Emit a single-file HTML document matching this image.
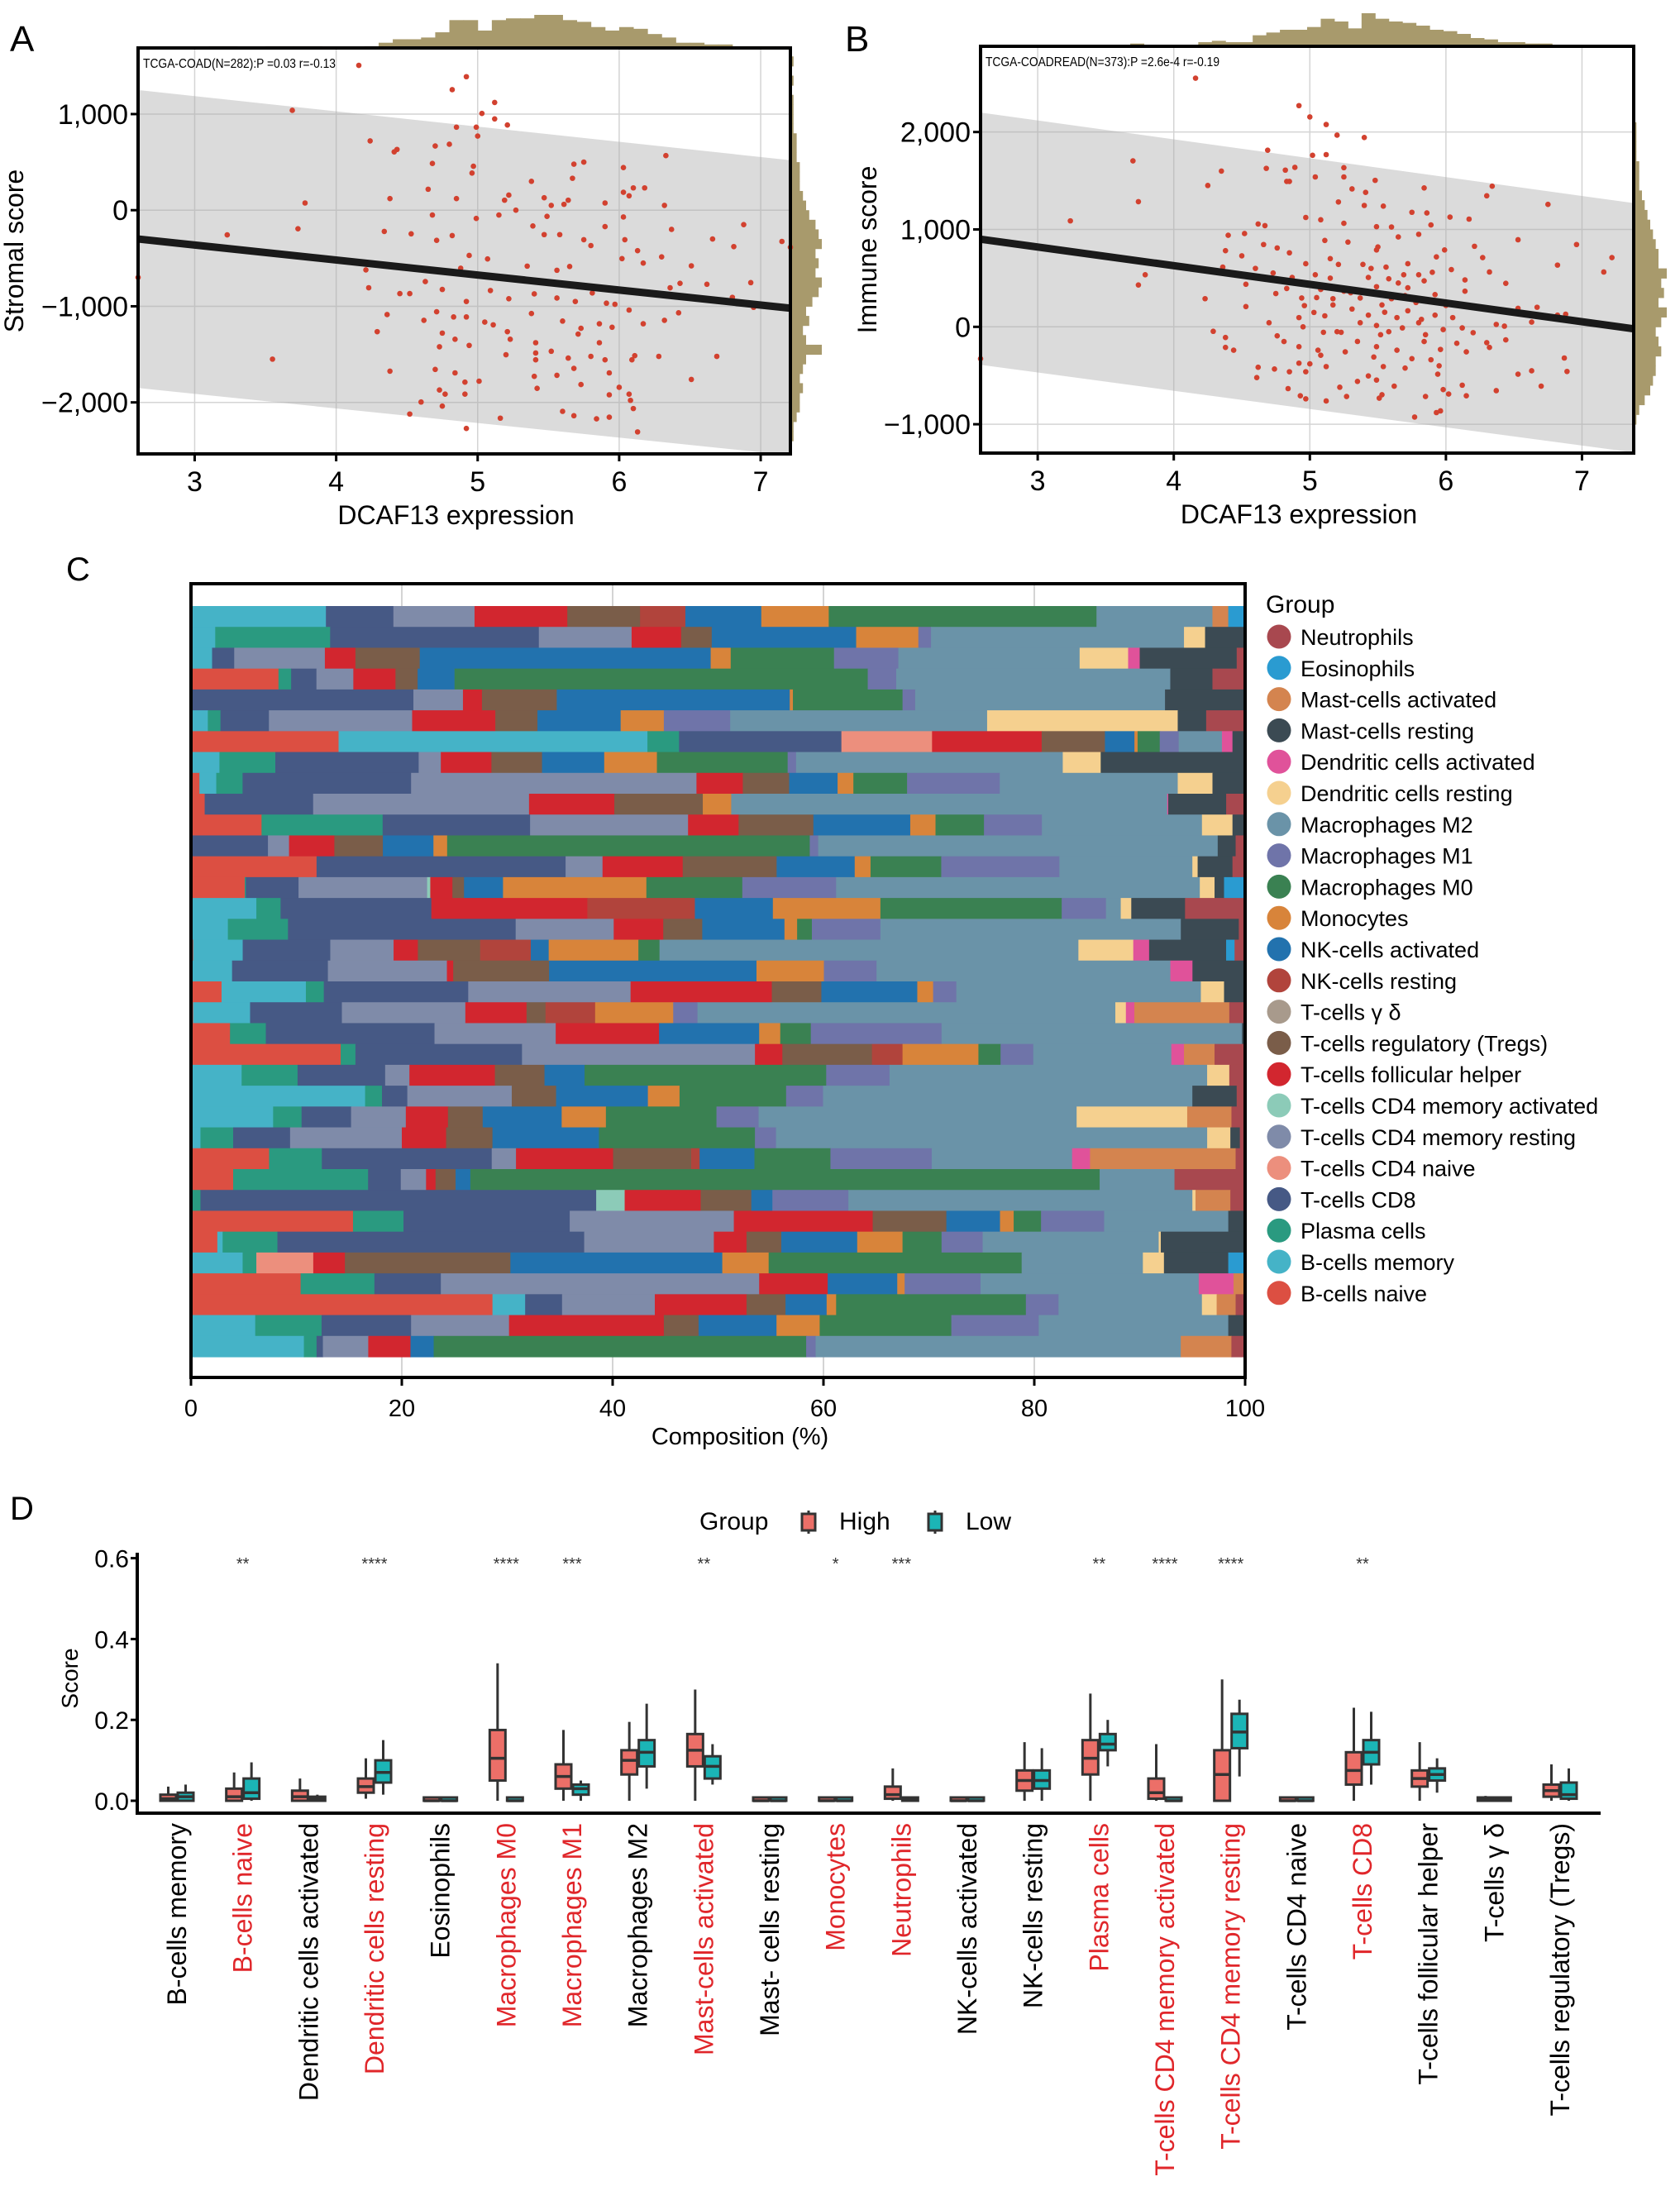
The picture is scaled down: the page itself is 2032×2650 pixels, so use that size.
<!DOCTYPE html>
<html><head><meta charset="utf-8">
<style>
html,body{margin:0;padding:0;background:#fff;}
svg{display:block;}
text{font-family:"Liberation Sans",sans-serif;}
.nar{font-family:"Liberation Sans Narrow","Liberation Sans",sans-serif;}
</style></head>
<body>
<svg id="fig" width="2032" height="2650" viewBox="0 0 2032 2650" xmlns="http://www.w3.org/2000/svg">
<rect x="0" y="0" width="2032" height="2650" fill="#fff"/>
<text x="12" y="62" font-size="44">A</text>
<text x="1022" y="62" font-size="44">B</text>
<text x="80" y="702" font-size="40">C</text>
<text x="12" y="1838" font-size="40">D</text>
</svg>
<script>
// ===== Panel A data =====
const ptsA = [[4.16,1507],[4.92,1389],[4.82,1254],[5.12,1121],[3.69,1039],[5.03,1007],[5.12,950],[5.21,886],[4.85,864],[4.99,864],[5.0,771],[4.24,721],[4.43,632],[4.41,607],[4.7,668],[4.8,686],[4.68,486],[4.97,457],[4.96,386],[6.33,568],[5.68,479],[5.75,500],[5.67,332],[5.38,300],[6.03,443],[6.18,232],[6.1,232],[6.03,186],[6.07,150],[4.65,218],[4.85,121],[4.38,121],[3.78,75],[5.47,129],[5.64,104],[5.9,75],[6.32,50],[5.22,157],[5.19,104],[5.52,50],[5.61,61],[5.27,0],[4.68,-50],[4.99,-86],[5.15,-50],[5.49,-64],[6.03,-71],[3.73,-193],[3.23,-257],[4.34,-221],[4.53,-246],[6.37,-200],[5.9,-171],[6.88,-150],[6.66,-300],[6.81,-379],[7.15,-325],[4.82,-264],[4.71,-314],[5.39,-164],[5.47,-254],[5.58,-254],[5.75,-307],[5.8,-368],[6.04,-307],[6.13,-421],[6.3,-486],[6.51,-579],[6.17,-550],[6.02,-504],[5.65,-586],[5.56,-625],[5.35,-582],[5.07,-507],[4.94,-471],[4.88,-604],[4.21,-621],[4.23,-807],[4.45,-868],[4.52,-868],[4.63,-743],[4.75,-825],[4.92,-950],[5.09,-836],[5.22,-921],[5.4,-871],[5.56,-914],[5.69,-950],[5.81,-861],[5.91,-968],[6.07,-1039],[6.36,-807],[6.43,-761],[6.62,-771],[6.93,-754],[6.8,-907],[6.95,-1011],[5.97,-979],[6.32,-1146],[6.42,-1068],[4.36,-1086],[4.62,-1146],[4.71,-1057],[4.83,-1111],[4.92,-1111],[5.05,-1164],[5.11,-1193],[5.38,-1075],[5.6,-1154],[5.73,-1229],[5.86,-1182],[5.95,-1218],[6.17,-1182],[4.29,-1264],[4.75,-1279],[4.84,-1343],[5.21,-1264],[5.23,-1343],[5.41,-1379],[5.71,-1289],[5.86,-1379],[4.73,-1421],[4.94,-1407],[5.2,-1504],[5.41,-1486],[5.52,-1468],[5.64,-1539],[5.8,-1521],[5.9,-1557],[6.11,-1514],[6.28,-1521],[6.69,-1521],[3.55,-1550],[5.41,-1557],[6.09,-1557],[4.7,-1657],[4.38,-1675],[4.84,-1693],[5.68,-1646],[5.93,-1693],[6.51,-1761],[5.4,-1729],[5.56,-1718],[4.91,-1789],[5.01,-1779],[5.73,-1814],[6.0,-1843],[4.73,-1871],[4.91,-1914],[4.77,-1914],[5.93,-1921],[5.42,-1854],[6.07,-1914],[6.08,-1979],[4.6,-1996],[4.75,-2039],[6.1,-2064],[5.6,-2093],[4.52,-2121],[5.68,-2139],[5.84,-2171],[5.93,-2154],[5.16,-2164],[6.13,-2307],[4.92,-2271],[2.6,-700],[7.21,-386]];
const fitA = [[2.6,-300],[7.21,-1020]];
const bandUpA = [[2.6,1250],[7.21,520]];
const bandLoA = [[2.6,-1850],[7.21,-2550]];
const xTicksA = [3,4,5,6,7];
const yTicksA = [1000,0,-1000,-2000];
const yTickLabelsA = ["1,000","0","\u22121,000","\u22122,000"];
const topHistA = [0,0,0,0,0,1,1,0,0,1,1,1,1,0,0,0,1,3,5,5,6,9,16,16,10,16,17,17,19,19,16,15,12,10,12,11,8,6,3,3,2,2,1,1,1,1];
const sideHistA = [0,1,1,2,3,3,4,3,4,5,10,5,4,6,5,7,9,10,8,9,8,10,9,8,6,5,4,3,3,3,2,2,2,1,1,1,1,0,1,0,1,0];

// ===== Panel B data =====
const ptsB = [[4.16,2553],[4.92,2271],[5.0,2155],[5.12,2077],[5.2,1968],[5.4,1944],[4.69,1813],[3.7,1704],[5.02,1761],[5.12,1768],[5.25,1634],[4.68,1627],[4.89,1637],[4.82,1609],[4.35,1599],[5.04,1539],[5.25,1539],[4.83,1493],[4.85,1493],[4.25,1451],[5.84,1426],[6.34,1444],[5.31,1416],[5.48,1504],[5.41,1380],[6.3,1345],[3.74,1285],[5.21,1282],[5.4,1246],[5.54,1239],[6.75,1257],[5.75,1176],[5.86,1169],[3.24,1088],[4.97,1123],[5.08,1099],[5.25,1063],[5.49,1028],[6.03,1127],[6.17,1106],[5.6,1025],[5.89,1046],[4.62,1056],[4.67,1039],[4.4,940],[4.52,958],[5.65,923],[6.53,894],[6.96,845],[6.21,827],[4.66,845],[4.76,810],[5.11,887],[5.28,870],[5.99,789],[5.49,789],[4.38,782],[4.5,729],[7.22,711],[6.27,711],[5.93,718],[4.97,648],[5.21,641],[5.39,641],[5.56,613],[5.72,648],[6.82,634],[4.36,613],[4.73,553],[3.79,535],[5.69,535],[5.8,535],[6.04,588],[7.16,563],[6.32,563],[4.87,507],[5.04,535],[5.43,507],[5.58,493],[5.84,472],[6.14,482],[4.53,437],[6.44,447],[3.74,430],[4.83,394],[5.08,384],[5.25,366],[5.49,412],[5.72,401],[6.14,366],[5.92,331],[4.75,342],[4.94,296],[5.17,289],[5.37,296],[5.6,289],[4.23,289],[5.17,225],[5.53,225],[6.67,201],[6.32,190],[6.53,190],[4.53,208],[4.96,218],[5.31,183],[5.72,165],[5.92,120],[5.03,148],[6.05,95],[6.88,130],[6.82,120],[5.11,113],[5.43,120],[5.64,95],[5.82,77],[5.8,42],[6.63,49],[6.37,25],[6.43,7],[4.7,42],[4.92,95],[5.37,42],[5.49,14],[5.68,-11],[6.12,-11],[5.98,-28],[4.29,-46],[5.23,-56],[5.52,-81],[5.85,-81],[5.1,-56],[4.76,-92],[4.38,-109],[4.81,-151],[6.3,-162],[6.44,-134],[5.49,-204],[5.84,-151],[6.08,-169],[4.38,-211],[4.44,-240],[4.92,-204],[5.06,-240],[5.26,-257],[5.64,-240],[5.96,-232],[6.15,-257],[6.32,-211],[5.08,-292],[5.47,-310],[5.75,-327],[5.89,-338],[6.87,-320],[4.62,-415],[4.74,-433],[4.92,-373],[5.12,-408],[5.54,-408],[5.7,-423],[6.53,-486],[6.63,-451],[6.89,-458],[4.61,-521],[4.85,-461],[4.97,-461],[5.43,-504],[5.94,-486],[5.49,-546],[4.84,-634],[5.22,-620],[5.62,-609],[5.98,-644],[6.12,-599],[6.37,-655],[6.7,-609],[4.93,-708],[5.27,-715],[5.53,-697],[5.85,-715],[6.02,-690],[6.15,-708],[4.97,-739],[5.12,-761],[5.51,-732],[5.96,-863],[5.93,-880],[5.77,-926],[2.58,-327],[5.3,350],[5.45,600],[5.55,150],[5.65,450],[5.78,250],[5.05,300],[5.15,500],[4.95,0],[5.35,-150],[5.58,-50],[5.7,320],[5.9,560],[6.0,220],[6.2,-60],[5.5,820],[5.8,950],[5.15,700],[4.85,760],[4.6,600],[5.95,-400],[5.35,-560],[5.0,-380],[5.2,-50]];
const fitB = [[2.58,900],[7.38,-20]];
const bandUpB = [[2.58,2200],[7.38,1270]];
const bandLoB = [[2.58,-390],[7.38,-1290]];
const xTicksB = [3,4,5,6,7];
const yTicksB = [2000,1000,0,-1000];
const yTickLabelsB = ["2,000","1,000","0","\u22121,000"];
const topHistB = [0,0,0,0,0,0,1,1,0,1,1,2,1,0,0,0,3,4,3,3,8,10,12,12,14,20,18,13,24,20,18,17,15,12,11,9,6,5,3,3,2,2,1,1,1,1,1,1];
const sideHistB = [0,0,0,1,2,4,6,7,8,8,10,9,8,10,12,9,11,10,12,9,9,8,7,6,5,4,3,2,2,2,1,1,1,1,0,0,0,0,0,0,0,0];

// ===== Panel C data =====
const cellKeys = ["bn","bm","pc","c8","c4n","c4r","c4a","tfh","trg","gd","nkr","nka","mo","m0","m1","m2","dcr","dca","mr","ma","eo","ne"];
const legendLabels = ["Neutrophils","Eosinophils","Mast-cells activated","Mast-cells resting","Dendritic cells activated","Dendritic cells resting","Macrophages M2","Macrophages M1","Macrophages M0","Monocytes","NK-cells activated","NK-cells resting","T-cells \u03b3 \u03b4","T-cells regulatory (Tregs)","T-cells follicular helper","T-cells CD4 memory activated","T-cells CD4 memory resting","T-cells CD4 naive","T-cells CD8","Plasma cells","B-cells memory","B-cells naive"];
const legendKeys = ["ne","eo","ma","mr","dca","dcr","m2","m1","m0","mo","nka","nkr","gd","trg","tfh","c4a","c4r","c4n","c8","pc","bm","bn"];
const cellColors = {ne:"#a8484f",eo:"#2a9bd1",ma:"#d4844f",mr:"#3b4a53",dca:"#e0529a",dcr:"#f5d08f",m2:"#6a93a8",m1:"#6f74a9",m0:"#3a8152",mo:"#d8843a",nka:"#2272ae",nkr:"#b1443c",gd:"#a89a8c",trg:"#7a5d49",tfh:"#d2262f",c4a:"#8ccbb8",c4r:"#7f8ba9",c4n:"#ec8f7d",c8:"#465985",pc:"#2a9a80",bm:"#45b3c7",bn:"#dc4f42"};
const compRows = [
{bm:12.8,c8:6.4,c4r:7.7,tfh:8.8,trg:6.9,nkr:4.3,nka:7.2,mo:6.4,m0:25.4,m2:11.0,ma:1.5,eo:1.6},
{bn:0.1,bm:2.2,pc:10.9,c8:19.8,c4r:8.8,tfh:4.7,trg:2.9,nka:13.7,mo:5.9,m1:1.2,m2:24,dcr:2.0,mr:3.8},
{bm:2.0,c8:2.1,c4r:8.6,tfh:2.9,trg:6.1,nka:27.6,mo:1.9,m0:9.8,m1:6.1,m2:17.2,dcr:4.6,dca:1.1,mr:9.2,ne:0.8},
{bn:8.3,pc:1.2,c8:2.4,c4r:3.5,tfh:4.0,trg:2.1,nka:3.5,m0:39.2,m1:2.7,m2:26.0,mr:4.0,ne:3.1},
{c8:21.1,c4r:4.7,tfh:1.8,trg:7.1,nka:22.1,mo:0.3,m0:10.4,m1:1.2,m2:23.7,mr:7.6},
{bm:1.6,pc:1.2,c8:4.6,c4r:13.6,tfh:7.9,trg:4.0,nka:7.9,mo:4.1,m1:6.3,m2:24.4,dcr:18.1,mr:2.7,ne:3.7},
{bn:14.0,bm:29.3,pc:3.0,c8:15.4,c4n:8.6,tfh:10.4,trg:6.0,nka:2.8,mo:0.3,m0:2.1,m1:1.8,m2:4.1,dca:1.0,mr:1.2},
{bm:2.7,pc:5.3,c8:13.6,c4r:2.1,tfh:4.8,trg:4.8,nka:5.9,mo:5.0,m0:12.4,m1:0.8,m2:25.3,dcr:3.6,mr:13.7},
{bn:0.8,bm:1.6,pc:2.5,c8:16.0,c4r:27.1,tfh:4.4,trg:4.4,nka:4.6,mo:1.5,m0:5.1,m1:8.8,m2:16.9,dcr:3.3,mr:3.1},
{bn:1.3,c8:10.3,c4r:20.5,tfh:8.1,trg:8.4,mo:2.7,m2:41.4,dca:0.1,mr:5.5,ne:1.8},
{bn:6.7,pc:11.5,c8:14.0,c4r:15.0,tfh:4.8,trg:7.1,nka:9.2,mo:2.4,m0:4.6,m1:5.5,m2:15.2,dcr:2.9,mr:1.2},
{c8:7.3,c4r:2.0,tfh:4.3,trg:4.6,nka:4.8,mo:1.3,m0:34.4,m1:0.8,m2:37.9,mr:1.7,ne:0.9},
{bn:11.9,c8:23.6,c4r:3.5,tfh:7.6,trg:8.9,nka:7.4,mo:1.5,m0:6.7,m1:11.2,m2:12.6,dcr:0.5,mr:3.3,ne:1.2},
{bn:5.1,pc:0.1,c8:5.0,c4r:12.2,c4a:0.3,tfh:2.1,trg:1.1,nka:3.7,mo:13.6,m0:9.1,m1:8.9,m2:34.5,dcr:1.4,mr:0.9,eo:2.0},
{bm:6.2,pc:2.3,c8:14.3,tfh:14.8,nkr:10.2,nka:7.4,mo:10.2,m0:17.2,m1:4.2,m2:1.4,dcr:1.0,mr:5.1,ne:5.7},
{bm:3.5,pc:5.7,c8:21.6,c4r:9.3,tfh:4.7,trg:3.7,nka:7.8,mo:1.2,m0:1.4,m1:6.5,m2:28.5,mr:5.5,ne:0.6},
{bn:0.2,bm:4.7,c8:8.3,c4r:6.0,tfh:2.3,trg:5.9,nkr:4.8,nka:1.7,mo:8.5,m0:2.0,m2:39.7,dcr:5.2,dca:1.5,mr:7.3,eo:0.8,ne:1.0},
{bm:3.9,c8:9.1,c4r:11.3,tfh:0.6,trg:9.1,nka:19.7,mo:6.4,m1:5.0,m2:27.9,dca:2.1,mr:5.0},
{bn:2.9,bm:8.0,pc:1.7,c8:13.7,c4r:15.4,tfh:13.4,trg:4.7,nka:9.1,mo:1.5,m1:2.2,m2:23.2,dcr:2.2,mr:2.0},
{bn:0.2,bm:5.4,c8:8.7,c4r:11.7,tfh:5.8,trg:1.8,nkr:4.7,mo:7.4,m1:2.3,m2:39.6,dcr:1.0,dca:0.8,ma:9.0,ne:1.5},
{bn:3.7,pc:3.4,c8:16.0,c4r:11.5,tfh:9.8,nka:9.5,mo:2.0,m0:2.9,m1:12.4,m2:28.5,mr:0.3},
{bn:14.2,pc:1.4,c8:15.8,c4r:22.1,tfh:2.6,trg:8.5,nkr:2.9,mo:7.2,m0:2.1,m1:3.1,m2:13.1,dca:1.2,ma:2.9,ne:2.9},
{bm:4.8,pc:5.3,c8:8.3,c4r:2.3,tfh:8.1,trg:4.7,nka:3.8,m0:22.9,m1:6.0,m2:30.1,dcr:2.1,ne:1.5},
{bm:16.5,pc:1.6,c8:2.4,c4r:9.9,trg:4.2,nka:8.7,mo:3.0,m0:10.1,m1:3.5,m2:35.0,mr:4.2,ne:0.8},
{bm:7.8,pc:2.7,c8:4.7,c4r:5.2,tfh:4.0,trg:3.3,nka:7.5,mo:4.2,m0:10.5,m1:4.0,m2:30.2,dcr:10.5,ma:4.2,ne:1.3},
{bm:0.9,pc:3.1,c8:5.4,c4r:10.6,tfh:4.2,trg:4.4,nka:10.1,m0:14.8,m1:2.0,m2:40.9,dcr:2.2,mr:0.9,ne:0.5},
{bn:7.4,pc:5.0,c8:16.1,c4r:2.3,tfh:9.2,trg:7.4,nkr:0.8,nka:5.2,m0:7.2,m1:9.6,m2:13.3,dca:1.7,ma:13.8,ne:0.9},
{bn:4.0,pc:12.8,c8:3.1,c4r:2.4,tfh:0.9,trg:1.9,nka:1.4,m0:59.7,m2:7.1,ne:6.7},
{pc:0.9,c8:37.5,c4a:2.7,tfh:7.2,trg:4.8,nka:2.0,m1:7.2,m2:32.6,dcr:0.3,ma:3.3,ne:1.4},
{bn:15.4,pc:4.8,c8:15.8,c4r:15.6,tfh:13.2,trg:7.0,nka:5.1,mo:1.3,m0:2.6,m1:6.0,m2:11.8,mr:1.6},
{bn:2.5,bm:0.5,pc:5.2,c8:29.1,c4r:12.3,tfh:3.1,trg:3.3,nka:7.2,mo:4.3,m0:3.7,m1:3.9,m2:16.7,dcr:0.2,mr:8.0},
{bm:4.9,pc:1.3,c4n:5.4,tfh:3.0,trg:15.7,nka:20.1,mo:4.4,m0:24.0,m2:11.5,dcr:2.0,mr:6.1,eo:1.6},
{bn:10.4,pc:7.0,c8:6.3,c4r:30.2,tfh:6.5,nka:6.6,mo:0.7,m1:7.2,m2:20.7,dca:3.3,ma:1.1},
{bn:28.6,bm:3.1,c8:3.5,c4r:8.8,tfh:8.7,trg:3.7,nka:3.9,mo:0.9,m0:18.0,m1:3.1,m2:13.6,dcr:1.4,ma:1.8,ne:0.9},
{bm:6.1,pc:6.3,c8:8.5,c4r:9.3,tfh:14.7,trg:3.3,nka:7.4,mo:4.1,m0:12.5,m1:8.3,m2:18.0,mr:1.6},
{bm:10.7,pc:1.2,c8:0.6,c4r:4.3,tfh:4.0,nka:2.2,m0:35.3,m1:0.9,m2:34.6,ma:4.8,ne:1.3}
];
const xTicksC = [0,20,40,60,80,100];

// ===== Panel D data =====
const boxCats = ["B-cells memory","B-cells naive","Dendritic cells activated","Dendritic cells resting","Eosinophils","Macrophages M0","Macrophages M1","Macrophages M2","Mast-cells activated","Mast- cells resting","Monocytes","Neutrophils","NK-cells activated","NK-cells resting","Plasma cells","T-cells CD4 memory activated","T-cells CD4 memory resting","T-cells CD4 naive","T-cells CD8","T-cells follicular helper","T-cells \u03b3 \u03b4","T-cells regulatory (Tregs)"];
const highStats = [[0,0,0.005,0.015,0.035],[0,0,0.01,0.03,0.07],[0,0,0.01,0.025,0.055],[0.005,0.02,0.035,0.055,0.105],[0,0,0,0.003,0.003],[0,0.05,0.105,0.175,0.34],[0,0.03,0.06,0.09,0.175],[0,0.065,0.1,0.125,0.195],[0,0.085,0.125,0.165,0.275],[0,0,0,0.003,0.003],[0,0,0,0.003,0.003],[0,0.005,0.015,0.035,0.08],[0,0,0,0.003,0.003],[0,0.025,0.05,0.075,0.145],[0,0.065,0.105,0.15,0.265],[0,0.005,0.02,0.055,0.14],[0,0,0.065,0.125,0.3],[0,0,0,0.003,0.003],[0,0.04,0.075,0.12,0.23],[0,0.035,0.055,0.075,0.145],[0,0,0.002,0.005,0.012],[0,0.01,0.025,0.04,0.09]];
const lowStats = [[0,0,0.01,0.02,0.04],[0,0.005,0.02,0.055,0.095],[0,0,0.005,0.01,0.015],[0.015,0.045,0.07,0.1,0.15],[0,0,0,0.003,0.003],[0,0,0,0.003,0.005],[0,0.015,0.03,0.04,0.05],[0.03,0.085,0.12,0.15,0.24],[0.04,0.055,0.085,0.11,0.14],[0,0,0,0.003,0.003],[0,0,0,0.003,0.003],[0,0,0.002,0.005,0.005],[0,0,0,0.003,0.003],[0,0.03,0.05,0.075,0.13],[0.085,0.125,0.14,0.165,0.2],[0,0,0,0.003,0.005],[0.06,0.13,0.17,0.215,0.25],[0,0,0,0.003,0.003],[0.04,0.09,0.12,0.15,0.22],[0.02,0.05,0.065,0.08,0.105],[0,0,0.002,0.005,0.008],[0,0.005,0.015,0.045,0.08]];
const sigStars = ["","**","","****","","****","***","","**","","*","***","","","**","****","****","","**","","",""];
const yTicksD = [0,0.2,0.4,0.6];
const yTickLabelsD = ["0.0","0.2","0.4","0.6"];

const NS = "http://www.w3.org/2000/svg";
const svg = document.getElementById('fig');
function mk(tag, attrs, parent){
  const e = document.createElementNS(NS, tag);
  for (const k in attrs) e.setAttribute(k, attrs[k]);
  (parent||svg).appendChild(e);
  return e;
}
function lin(d0,d1,r0,r1){ return v => r0 + (v-d0)/(d1-d0)*(r1-r0); }

function scatter(P){
  const g = mk('g', {});
  
  
  const sx = lin(P.xd[0],P.xd[1],P.L,P.R), sy = lin(P.yd[0],P.yd[1],P.B,P.T);
  const hmaxT = Math.max(...P.topHist);
  P.topHist.forEach((c,i)=>{
    if(!c) return;
    const x0 = sx(P.xd[0] + i*0.1), x1 = sx(P.xd[0] + (i+1)*0.1);
    const h = c/hmaxT*P.topH;
    const r = mk('rect',{x:x0,y:P.T-h,width:x1-x0+0.5,height:h,fill:"#a89a6c"},g);
    
    
  });
  const hmaxS = Math.max(...P.sideHist);
  P.sideHist.forEach((c,i)=>{
    if(!c) return;
    const y0 = sy(P.sideStart + i*100), y1 = sy(P.sideStart + (i+1)*100);
    const w = c/hmaxS*P.sideW;
    const r = mk('rect',{x:P.R,y:y1,width:w,height:y0-y1+0.5,fill:"#a89a6c"},g);
    
    
  });
  mk('rect',{x:P.L,y:P.T,width:P.R-P.L,height:P.B-P.T,fill:"#fff"},g);
  P.xt.forEach(v=>{ const l=mk('line',{x1:sx(v),x2:sx(v),y1:P.T,y2:P.B,stroke:"#d4d4d4","stroke-width":1.5},g);
      });
  P.yt.forEach(v=>{ const l=mk('line',{x1:P.L,x2:P.R,y1:sy(v),y2:sy(v),stroke:"#d4d4d4","stroke-width":1.5},g);
      });
  const u=P.bandUp, lo=P.bandLo;
  const band = mk('polygon',{points:`${sx(u[0][0])},${sy(u[0][1])} ${sx(u[1][0])},${sy(u[1][1])} ${sx(lo[1][0])},${sy(lo[1][1])} ${sx(lo[0][0])},${sy(lo[0][1])}`,fill:"#a9a9a9","fill-opacity":0.42},g);
  
  
  P.pts.forEach(p=>{
    const c = mk('circle',{cx:sx(p[0]),cy:sy(p[1]),r:3.3,fill:"#d2412f"},g);
    
    
  });
  const f=P.fit;
  const fl = mk('line',{x1:sx(f[0][0]),y1:sy(f[0][1]),x2:sx(f[1][0]),y2:sy(f[1][1]),stroke:"#1a1a1a","stroke-width":9},g);
  
  
  const fr = mk('rect',{x:P.L,y:P.T,width:P.R-P.L,height:P.B-P.T,fill:"none",stroke:"#000","stroke-width":4},g);
  
  
  P.xt.forEach(v=>{
    mk('line',{x1:sx(v),x2:sx(v),y1:P.B,y2:P.B+9,stroke:"#000","stroke-width":3},g);
    const t = mk('text',{x:sx(v),y:P.B+45,"font-size":34,"text-anchor":"middle",class:"nar"},g);
    t.textContent = v;
    
    
  });
  P.yt.forEach((v,i)=>{
    mk('line',{x1:P.L-9,x2:P.L,y1:sy(v),y2:sy(v),stroke:"#000","stroke-width":3},g);
    const t = mk('text',{x:P.L-12,y:sy(v)+12,"font-size":34,"text-anchor":"end",class:"nar"},g);
    t.textContent = P.ytl[i];
    
    
  });
  const xt = mk('text',{x:(P.L+P.R)/2-10,y:P.B+85,"font-size":32,"text-anchor":"middle"},g);
  xt.textContent = "DCAF13 expression";
  
  
  const yt = mk('text',{x:0,y:0,"font-size":32,"text-anchor":"middle",transform:`translate(${P.ytx},${(P.T+P.B)/2}) rotate(-90)`},g);
  yt.textContent = P.ytitle;
  
  
  const an = mk('text',{x:P.L+6,y:P.T+24,"font-size":16,"font-family":"Liberation Serif, serif",textLength:P.annW,lengthAdjust:"spacingAndGlyphs"},g);
  an.textContent = P.ann;
  
  
}

scatter({name:"panel-a-scatter",L:167,R:956,T:58,B:549,xd:[2.6,7.21],yd:[-2536,1688],pts:ptsA,fit:fitA,bandUp:bandUpA,bandLo:bandLoA,
  xt:xTicksA,yt:yTicksA,ytl:yTickLabelsA,topHist:topHistA,topH:40,sideHist:sideHistA,sideStart:-2500,sideW:38,
  ytitle:"Stromal score",ytx:28,ann:"TCGA-COAD(N=282):P =0.03 r=-0.13",annW:233});
scatter({name:"panel-b-scatter",L:1186,R:1976,T:56,B:548,xd:[2.58,7.38],yd:[-1296,2880],pts:ptsB,fit:fitB,bandUp:bandUpB,bandLo:bandLoB,
  xt:xTicksB,yt:yTicksB,ytl:yTickLabelsB,topHist:topHistB,topH:40,sideHist:sideHistB,sideStart:-1300,sideW:40,
  ytitle:"Immune score",ytx:1060,ann:"TCGA-COADREAD(N=373):P =2.6e-4 r=-0.19",annW:283});

// ===== Panel C =====
(function(){
  const L=231,R=1506,T=706,B=1666,top0=733,rowH=(1641-733)/compRows.length;
  const sx = lin(0,100,L,R);
  const g = mk('g',{});
  
  
  xTicksC.forEach(v=>{ const l=mk('line',{x1:sx(v),x2:sx(v),y1:T,y2:B,stroke:"#d4d4d4","stroke-width":2},g);
      });
  compRows.forEach((row,i)=>{
    let tot=0; cellKeys.forEach(k=>{tot += row[k]||0;});
    let acc=0;
    cellKeys.forEach(k=>{
      const v=row[k]||0; if(!v) return;
      const x0=sx(acc/tot*100), x1=sx((acc+v)/tot*100);
      const r=mk('rect',{x:x0,y:top0+i*rowH,width:x1-x0+0.6,height:rowH+0.6,fill:cellColors[k]},g);
      
      
      acc+=v;
    });
  });
  const fr=mk('rect',{x:L,y:T,width:R-L,height:B-T,fill:"none",stroke:"#000","stroke-width":4},g);
  
  
  xTicksC.forEach(v=>{
    mk('line',{x1:sx(v),x2:sx(v),y1:B,y2:B+10,stroke:"#000","stroke-width":3},g);
    const t=mk('text',{x:sx(v),y:B+47,"font-size":29,"text-anchor":"middle"},g);
    t.textContent=v;
    
    
  });
  const xt=mk('text',{x:895,y:1747,"font-size":29,"text-anchor":"middle"},g);
  xt.textContent="Composition (%)";
  
  
  const lg=mk('g',{});
  
  
  const gt=mk('text',{x:1531,y:741,"font-size":30},lg);
  gt.textContent="Group";
  
  
  legendLabels.forEach((lab,i)=>{
    const y=770+i*37.8;
    const c=mk('circle',{cx:1547,cy:y,r:14.5,fill:cellColors[legendKeys[i]]},lg);
    
    
    const t=mk('text',{x:1573,y:y+10,"font-size":27},lg);
    t.textContent=lab;
    
    
  });
})();

// ===== Panel D =====
(function(){
  const AX=166, X0=214, step=(1887-214)/21, YB=2193;
  const sy = lin(0,0.1,2178,2178-48.9);
  const g=mk('g',{});
  
  
  const ya=mk('line',{x1:AX,x2:AX,y1:1878,y2:YB,stroke:"#000","stroke-width":4},g);
   
  const xa=mk('line',{x1:AX-2,x2:1936,y1:YB,y2:YB,stroke:"#000","stroke-width":4},g);
   
  yTicksD.forEach((v,i)=>{
    mk('line',{x1:AX-8,x2:AX,y1:sy(v),y2:sy(v),stroke:"#000","stroke-width":3},g);
    const t=mk('text',{x:AX-10,y:sy(v)+11,"font-size":30,"text-anchor":"end",class:"nar"},g);
    t.textContent=yTickLabelsD[i];
    
    
  });
  const yt=mk('text',{x:0,y:0,"font-size":28,"text-anchor":"middle",transform:"translate(94,2030) rotate(-90)"},g);
  yt.textContent="Score";
  
  
  function box(cx, s, col, nm){
    const w=19;
    const wl=mk('line',{x1:cx,x2:cx,y1:sy(s[0]),y2:sy(s[4]),stroke:"#333","stroke-width":3},g);
     
    const h=Math.max(sy(s[1])-sy(s[3]),4);
    const r=mk('rect',{x:cx-w/2,y:sy(s[1])-h,width:w,height:h,fill:col,stroke:"#333","stroke-width":3},g);
     
    const m=mk('line',{x1:cx-w/2,x2:cx+w/2,y1:sy(s[2]),y2:sy(s[2]),stroke:"#333","stroke-width":3.5},g);
     
  }
  boxCats.forEach((lab,i)=>{
    const cx=X0+i*step;
    box(cx-10.5, highStats[i], "#ec6f68", "high");
    box(cx+10.5, lowStats[i], "#1bb5b6", "low");
    const sig = sigStars[i] !== "";
    if(sig){
      const st=mk('text',{x:cx,y:1898,"font-size":20,"text-anchor":"middle",fill:"#333"},g);
      st.textContent=sigStars[i];
      
      
    }
    const t=mk('text',{x:0,y:0,"font-size":32,"text-anchor":"end",fill:sig?"#e0262a":"#000",transform:`translate(${cx+11},2205) rotate(-90)`},g);
    t.textContent=lab;
    
    
  });
  const lg=mk('g',{});
  
  
  const gt=mk('text',{x:846,y:1850,"font-size":30},lg);
  gt.textContent="Group";
   
  [[978,"#ec6f68","High",1015],[1131,"#1bb5b6","Low",1168]].forEach(e=>{
    const ln=mk('line',{x1:e[0],x2:e[0],y1:1827,y2:1855,stroke:"#333","stroke-width":3},lg);
     
    const r=mk('rect',{x:e[0]-8,y:1831,width:16,height:20,fill:e[1],stroke:"#333","stroke-width":3},lg);
     
    const t=mk('text',{x:e[3],y:1850,"font-size":30},lg);
    t.textContent=e[2];
     
  });
})();
</script>
</body></html>
